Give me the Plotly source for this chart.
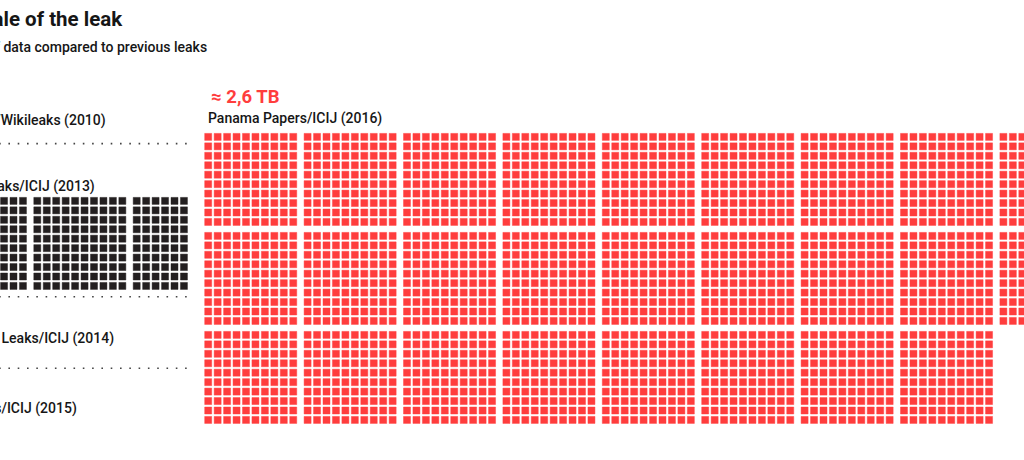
import plotly.graph_objects as go

# ---- data (GB of leaked data; 1 square = 1 GB, blocks of 100) ----
leaks = ["Cablegate/Wikileaks (2010)", "Offshore Leaks/ICIJ (2013)",
         "Luxembourg Leaks/ICIJ (2014)", "Swiss Leaks/ICIJ (2015)",
         "Panama Papers/ICIJ (2016)"]
size_gb = [1.7, 260, 4.4, 3.3, 2600]
headline = "≈ 2,6 TB"
title = "The scale of the leak"
subtitle = "Amount of data compared to previous leaks"

RED = "#ff3d3d"
BLACK = "#231f20"
TXT = "#161616"
FONT = "Roboto, Lato, sans-serif"

CELL = 9.45        # cell pitch (px)
BLOCK_X = 99.4     # block pitch horizontally
BLOCK_Y = 99.0     # block pitch vertically


def waffle(n, x0, y0, per_row):
    xs, ys = [], []
    for i in range(int(round(n + 0.499))):
        b, r = divmod(i, 100)
        col, row = divmod(r, 10)
        br, bc = divmod(b, per_row)
        xs.append(x0 + bc * BLOCK_X + col * CELL)
        ys.append(y0 + br * BLOCK_Y + row * CELL)
    return xs, ys


# layout of each leak: (first cell centre x, y, blocks per row, colour)
LEFT = -62.1
placement = [
    (LEFT, 131.0, 3, BLACK),
    (LEFT, 200.9, 3, BLACK),
    (LEFT, 350.0, 3, BLACK),
    (LEFT, 420.0, 3, BLACK),
    (208.2, 136.9, 9, RED),
]
halo = {RED: "rgba(255,61,61,0.45)", BLACK: "rgba(35,31,32,0.45)"}

fig = go.Figure()
for name, val, (x0, y0, per_row, col) in zip(leaks, size_gb, placement):
    xs, ys = waffle(val, x0, y0, per_row)
    fig.add_trace(go.Scatter(
        x=xs, y=ys, mode="markers", name=name, hoverinfo="name",
        marker=dict(symbol="square", size=7, color=col,
                    line=dict(width=1, color=halo[col])),
        showlegend=False))

# separators
for yy in [143.6, 296.7, 368.3]:
    fig.add_shape(type="line", x0=-66, x1=192, y0=yy, y1=yy, xref="x", yref="y",
                  line=dict(color="#444444", width=1.6, dash="1.6px,7.7px"))

LBL = 14
ann = []
# title and subtitle (left part cropped in the reference)
ann.append(dict(x=124.5, y=19.0, text="<b>%s</b>" % title, xanchor="right", yanchor="middle",
                font=dict(size=20.5, color=TXT, family=FONT)))
ann.append(dict(x=208.5, y=47.0, text=subtitle, xanchor="right", yanchor="middle",
                font=dict(size=LBL, color=TXT, family=FONT, weight=500)))
# left labels (right-anchored, their start is cut off)
label_pos = [(107.5, 120.0), (97, 186.5), (115.5, 338.0), (78.5, 408.0)]
for name, (lx, ly) in zip(leaks[:4], label_pos):
    ann.append(dict(x=lx, y=ly, text=name, xanchor="right", yanchor="middle",
                    font=dict(size=LBL, color=TXT, family=FONT, weight=500)))
# Panama Papers labels
ann.append(dict(x=209, y=97.0, text="<b>%s</b>" % headline, xanchor="left", yanchor="middle",
                font=dict(size=18.5, color=RED, family=FONT)))
ann.append(dict(x=205.5, y=118.0, text=leaks[4], xanchor="left", yanchor="middle",
                font=dict(size=LBL, color=TXT, family=FONT, weight=500)))
for a in ann:
    a.update(xref="x", yref="y", showarrow=False)

fig.update_layout(
    width=1024, height=460,
    margin=dict(l=0, r=0, t=0, b=0),
    paper_bgcolor="white", plot_bgcolor="white",
    xaxis=dict(range=[0, 1024], visible=False, fixedrange=True),
    yaxis=dict(range=[460, 0], visible=False, fixedrange=True),
    annotations=ann,
    font=dict(family=FONT),
)
fig.write_html("out.html", config={"displayModeBar": False},
               post_script="document.body.style.margin='0px';")
